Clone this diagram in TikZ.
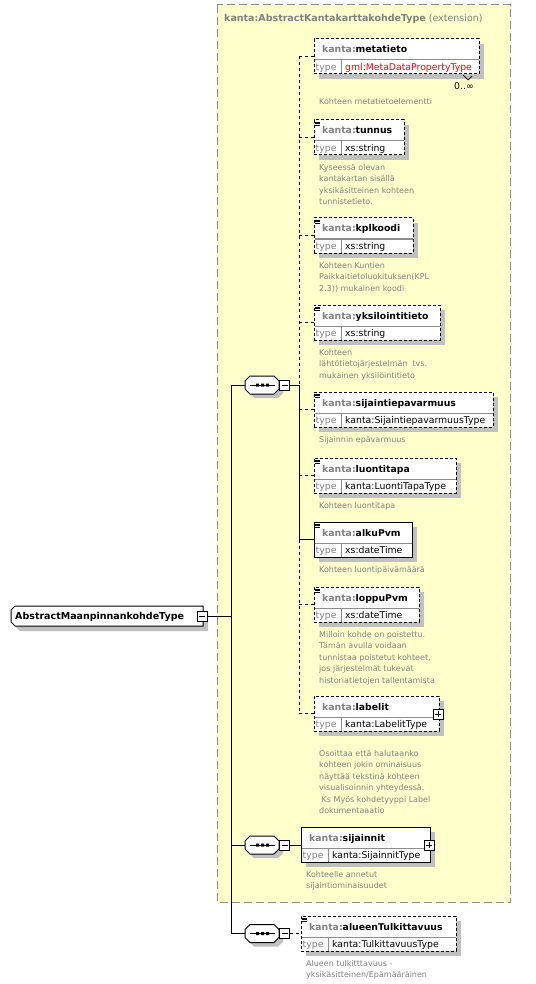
\documentclass[tikz,border=0pt]{standalone}
\usepackage{fontspec}
\setmainfont{DejaVu Sans}
\usetikzlibrary{calc}
\definecolor{yel}{HTML}{FFFFCC}
\definecolor{tgray}{HTML}{808080}
\definecolor{shad}{HTML}{C0C0C0}
\definecolor{bord}{HTML}{8C8C8C}
\definecolor{divc}{HTML}{8C8C8C}
\newcommand\xnamefont{\fontsize{9.3}{11}\selectfont\bfseries}
\newcommand\xtypefont{\fontsize{9.3}{11}\selectfont}
\newcommand\xdescfont{\fontsize{8}{11.5}\selectfont}
\tikzset{
  x=1pt, y=-1pt,
  elbox/.style={draw=black, line width=1pt, fill=white, minimum height=35pt, inner sep=0pt, outer sep=0pt, anchor=north west},
  optb/.style={dash pattern=on 3pt off 2pt},
  optc/.style={dash pattern=on 3pt off 3pt},
  divline/.style={draw=divc, line width=1pt},
  nametext/.style={anchor=base west, inner sep=0pt, font=\xnamefont},
  typetext/.style={anchor=base west, inner sep=0pt, font=\xtypefont},
  desc/.style={anchor=north west, inner sep=0pt, align=left, font=\xdescfont, text=tgray},
  pm/.style={draw=black, fill=white, line width=1pt, minimum size=10pt, inner sep=0pt, outer sep=0pt},
  conn/.style={line width=1pt, draw=black},
}
% #1 id, #2 left, #3 top, #4 width, #5 border style, #6 name, #7 type, #8 type colour
\newcommand\xel[8]{%
  \fill[shad] (#2+5,#3+5) rectangle (#2+#4+5,#3+40);
  \node[elbox,#5,minimum width=#4pt] (#1) at (#2,#3) {};
  \draw[divline] (#2+0.5,#3+21) -- (#2+#4-0.5,#3+21);
  \draw[divline] (#2+27,#3+21) -- (#2+27,#3+34.5);
  \node[nametext] (#1-n) at (#2+8,#3+14) {\textcolor{tgray}{kanta:}#6};
  \node[typetext,text=tgray] (#1-k) at (#2+1.5,#3+31.5) {type};
  \node[typetext,text=#8] (#1-t) at (#2+31,#3+31.5) {#7};
}
\newcommand\xicon[2]{%
  \draw[line width=0.8pt] (#1+1,#2+2) -- (#1+6,#2+2) (#1+1,#2+3.8) -- (#1+6,#2+3.8) (#1+1,#2+5.6) -- (#1+6,#2+5.6);
}
% #1 id, #2 centre y
\newcommand\xseq[2]{%
  \fill[shad] (249,#2) -- (254,#2-5) -- (278,#2-5) -- (283,#2) -- (283,#2+8) -- (278,#2+13) -- (254,#2+13) -- (249,#2+8) -- cycle;
  \draw[line width=1pt, fill=white] (245,#2-4) -- (250,#2-9) -- (274,#2-9) -- (279,#2-4) -- (279,#2+4) -- (274,#2+9) -- (250,#2+9) -- (245,#2+4) -- cycle;
  \node[inner sep=0pt, outer sep=0pt, minimum width=34pt, minimum height=18pt] (#1) at (262,#2) {};
  \draw[line width=0.8pt] (250,#2) -- (275,#2);
  \fill (256,#2-1.5) rectangle (259,#2+1.5) (261,#2-1.5) rectangle (264,#2+1.5) (266,#2-1.5) rectangle (269,#2+1.5);
  \node[pm] (#1-m) at (284.5,#2) {};
  \draw[line width=0.8pt] (281.5,#2) -- (287.5,#2);
}
\begin{document}
\begin{tikzpicture}
\useasboundingbox (0,0) rectangle (535,984);
\fill[white] (0,0) rectangle (535,984);
% extension box
\draw[draw=bord, fill=yel, line width=1pt, dash pattern=on 8pt off 4pt] (217,5) rectangle (510.5,902.5);
\node[anchor=base west, inner sep=0pt, font=\fontsize{9.5}{11}\selectfont, text=tgray] (title) at (224,22) {\textbf{kanta:AbstractKantakarttakohdeType} (extension)};

% root
\fill[shad] (20,611) -- (208,611) -- (208,631) -- (20,631) -- (16,627) -- (16,615) -- cycle;
\draw[line width=1pt, fill=white] (15,606) -- (203,606) -- (203,626) -- (15,626) -- (11,622) -- (11,610) -- cycle;
\node[anchor=base west, inner sep=0pt, font=\fontsize{9.5}{11}\selectfont\bfseries] (root) at (15,619.5) {AbstractMaanpinnankohdeType};
\node[pm] (root-m) at (202,616) {};
\draw[line width=0.8pt] (199,616) -- (205,616);

% sequences
\xseq{s1}{385}
\xseq{s2}{845}
\xseq{s3}{933.5}

% elements
\xel{meta}{314}{39}{165}{optb}{metatieto}{gml:MetaDataPropertyType}{red}
\xel{tun}{314}{120}{90}{optb}{tunnus}{xs:string}{black}
\xicon{314}{120}
\xel{kpl}{314}{218}{99}{optb}{kplkoodi}{xs:string}{black}
\xicon{314}{218}
\xel{yks}{314}{305}{126}{optb}{yksilointitieto}{xs:string}{black}
\xicon{314}{305}
\xel{sep}{314}{392}{179}{optb}{sijaintiepavarmuus}{kanta:SijaintiepavarmuusType}{black}
\xicon{314}{392}
\xel{luo}{314}{458}{142}{optb}{luontitapa}{kanta:LuontiTapaType}{black}
\xicon{314}{458}
\xel{alk}{314}{522}{98}{solid}{alkuPvm}{xs:dateTime}{black}
\xicon{314}{522}
\xel{lop}{314}{587}{105}{optb}{loppuPvm}{xs:dateTime}{black}
\xicon{314}{587}
\xel{lab}{314}{696}{125}{optb}{labelit}{kanta:LabelitType}{black}
\node[pm] (lab-p) at (438,714) {};
\draw[line width=0.8pt] (435,714) -- (441,714) (438,711) -- (438,717);
\xel{sij}{301}{827}{129}{solid}{sijainnit}{kanta:SijainnitType}{black}
\node[pm] (sij-p) at (429,845) {};
\draw[line width=0.8pt] (426,845) -- (432,845) (429,842) -- (429,848);
\xel{alu}{301}{916}{155}{optb}{alueenTulkittavuus}{kanta:TulkittavuusType}{black}
\xicon{301}{916}

% occurrence
\node[anchor=base east, inner sep=0pt, font=\xtypefont] (occ) at (474,90) {0..∞};
\draw[line width=0.7pt] (463,75) -- (468,80) -- (472,76);

% descriptions
\node[desc] (meta-d) at (319,96) {\strut Kohteen metatietoelementti};
\node[desc] (tun-d) at (319,162) {\strut Kyseessä olevan\\kantakartan sisällä\\yksikäsitteinen kohteen\\tunnistetieto.};
\node[desc] (kpl-d) at (319,260) {\strut Kohteen Kuntien\\Paikkaitietoluokituksen(KPL\\2.3)) mukainen koodi};
\node[desc] (yks-d) at (319,347) {\strut Kohteen\\lähtötietojärjestelmän\ \ tvs.\\mukainen yksilöintitieto};
\node[desc] (sep-d) at (319,434) {\strut Sijainnin epävarmuus};
\node[desc] (luo-d) at (319,500) {\strut Kohteen luontitapa};
\node[desc] (alk-d) at (319,564) {\strut Kohteen luontipäivämäärä};
\node[desc] (lop-d) at (319,629) {\strut Milloin kohde on poistettu.\\Tämän avulla voidaan\\tunnistaa poistetut kohteet,\\jos järjestelmät tukevat\\historiatietojen tallentamista};
\node[desc] (lab-d) at (319,748) {\strut Osoittaa että halutaanko\\kohteen jokin ominaisuus\\näyttää tekstinä kohteen\\visualisoinnin yhteydessä.\\\hspace*{2.5pt}Ks Myös kohdetyyppi Label\\dokumentaaatio};
\node[desc] (sij-d) at (306,869) {\strut Kohteelle annetut\\sijaintiominaisuudet};
\node[desc] (alu-d) at (306,958) {\strut Alueen tulkitttavuus -\\yksikäsitteinen/Epämääräinen};

% connectors
\coordinate (j1) at (231,385);
\coordinate (j3) at (231,933.5);
\coordinate (v1) at (299,385);
\draw[conn] (root-m.east) -- (root-m.east -| j1);
\draw[conn] (j1) -- (j3);
\draw[conn] (j1) -- (s1.west);
\draw[conn] (s2.west -| j1) -- (s2.west);
\draw[conn] (j3) -- (s3.west);
\draw[conn] (s1-m.east) -- (v1);
\draw[conn,optc] (meta.west -| v1) -- (v1);
\draw[conn] (v1) -- (alk.west -| v1);
\draw[conn,optc] (alk.west -| v1) -- (lab.west -| v1);
\foreach \e in {meta,tun,kpl,yks,sep,luo,lop,lab} {
  \draw[conn,optc] (\e.west -| v1) -- (\e.west);
}
\draw[conn] (alk.west -| v1) -- (alk.west);
\draw[conn] (s2-m.east) -- (s2-m.east -| sij.west);
\draw[conn,optc] (s3-m.east) -- (s3-m.east -| alu.west);
\end{tikzpicture}
\end{document}
